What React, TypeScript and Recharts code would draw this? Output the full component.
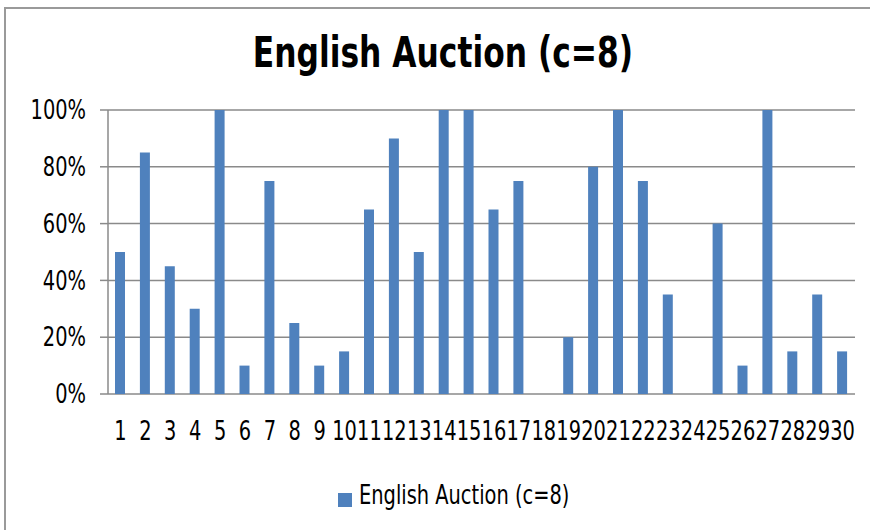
import { BarChart, Bar, XAxis, YAxis, CartesianGrid, Legend } from "recharts";

const rounds = Array.from({ length: 30 }, (_, i) => String(i + 1));
const successRate = [
  50, 85, 45, 30, 100, 10, 75, 25, 10, 15,
  65, 90, 50, 100, 100, 65, 75, 0, 20, 80,
  100, 75, 35, 0, 60, 10, 100, 15, 35, 15,
];
const yTicks = [0, 20, 40, 60, 80, 100];
const boundaryTicks = Array.from({ length: 31 }, (_, i) => i);

const seriesName = "English Auction (c=8)";
const font = '"DejaVu Sans Condensed", "DejaVu Sans", sans-serif';
const gray = "#8a8a8a";
// the source uses a narrow (Calibri-like) face, so squeeze the text horizontally
const squeeze = 0.83;

const data = rounds.map((r, i) => ({ round: r, value: successRate[i] }));

function XTick(props: any) {
  const { x, y, payload } = props;
  return (
    <g transform={`translate(${x},${y})`}>
      <text
        transform={`scale(${squeeze},1)`}
        textAnchor="middle"
        dy="0.71em"
        fill="#000"
        fontSize={26}
        fontFamily={font}
      >
        {payload.value}
      </text>
    </g>
  );
}

function YTick(props: any) {
  const { x, y, payload } = props;
  return (
    <g transform={`translate(${x},${y})`}>
      <text
        transform={`scale(${squeeze},1)`}
        textAnchor="end"
        dy="0.355em"
        fill="#000"
        fontSize={26}
        fontFamily={font}
      >
        {`${payload.value}%`}
      </text>
    </g>
  );
}

export default function App() {
  return (
    <div
      style={{
        position: "absolute",
        left: 0,
        top: 0,
        width: 870,
        height: 530,
        overflow: "hidden",
        background: "#fff",
        fontFamily: font,
      }}
    >
      {/* chart frame, cropped on right/bottom like the source */}
      <div
        style={{
          position: "absolute",
          left: 4,
          top: 7,
          width: 900,
          height: 600,
          borderLeft: "2px solid #9a9a9a",
          borderTop: "2px solid #9a9a9a",
        }}
      />
      <div
        style={{
          position: "absolute",
          left: 0,
          top: 31,
          width: 886,
          textAlign: "center",
          fontSize: 43,
          lineHeight: "43px",
          fontWeight: "bold",
          color: "#000",
          transform: "scaleX(0.81)",
          transformOrigin: "center",
        }}
      >
        {seriesName}
      </div>
      <div style={{ position: "absolute", left: 0, top: 0 }}>
        <BarChart
          width={870}
          height={530}
          data={data}
          margin={{ top: 110, right: 15, left: 0, bottom: 14 }}
        >
          <CartesianGrid vertical={false} stroke={gray} strokeWidth={1.5} />
          <XAxis
            xAxisId="b"
            type="number"
            domain={[0, 30]}
            ticks={boundaryTicks}
            tick={false}
            height={0}
            tickSize={7}
            tickLine={{ stroke: gray, strokeWidth: 1.5 }}
            axisLine={{ stroke: gray, strokeWidth: 2 }}
          />
          <XAxis
            xAxisId="c"
            dataKey="round"
            height={86}
            axisLine={false}
            tickLine={false}
            tickSize={0}
            tickMargin={28}
            interval={0}
            tick={<XTick />}
          />
          <YAxis
            width={108}
            domain={[0, 100]}
            ticks={yTicks}
            tickSize={8}
            tickMargin={14}
            tickLine={{ stroke: gray, strokeWidth: 1.5 }}
            axisLine={{ stroke: gray, strokeWidth: 1.5 }}
            tick={<YTick />}
          />
          <Legend
            verticalAlign="bottom"
            height={36}
            iconType="square"
            iconSize={14}
            wrapperStyle={{ paddingLeft: 31 }}
            formatter={(v) => (
              <span
                style={{
                  display: "inline-block",
                  color: "#000",
                  fontSize: 26,
                  fontFamily: font,
                  marginLeft: 3,
                  transform: `scaleX(${squeeze})`,
                  transformOrigin: "left",
                  marginRight: -44,
                }}
              >
                {v}
              </span>
            )}
          />
          <Bar
            xAxisId="c"
            dataKey="value"
            name={seriesName}
            fill="#4f81bd"
            barSize={10}
            isAnimationActive={false}
          />
        </BarChart>
      </div>
    </div>
  );
}
